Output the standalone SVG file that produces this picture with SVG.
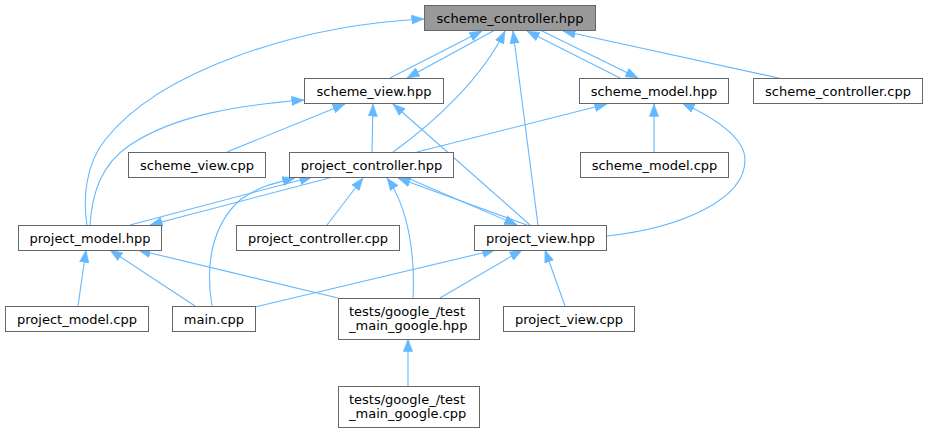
<svg xmlns="http://www.w3.org/2000/svg" width="928" height="432" viewBox="0 0 928 432">
<style>
.n rect{fill:#ffffff;stroke:#666666;stroke-width:1}
.n.root rect{fill:#999999}
.n text{font-family:"DejaVu Sans","Liberation Sans",sans-serif;font-size:13px;fill:#000000;text-anchor:middle}
.n text.l{text-anchor:start}
.e path{fill:none;stroke:#63b8ff;stroke-width:1.1;marker-end:url(#ah)}
</style>
<defs>
<marker id="ah" markerUnits="userSpaceOnUse" markerWidth="13" markerHeight="10" refX="12.5" refY="5" orient="auto" viewBox="0 0 13 10">
<path d="M0,0.3 L12.5,5 L0,9.7 z" fill="#63b8ff" stroke="#63b8ff" stroke-width="0.5"/>
</marker>
</defs>
<rect width="928" height="432" fill="#ffffff"/>
<g id="edges" class="e">
<path d="M87,225 C83,200 85,165 105,140 C160,70 300,25 424,19"/>
<path d="M390,78 L482,31"/>
<path d="M495,30 L407,78"/>
<path d="M393,152 C435,122 482,78 505,31"/>
<path d="M538,225 L513,31"/>
<path d="M620,78 L527,31"/>
<path d="M540,30 L638,78"/>
<path d="M783,79 L563,31"/>
<path d="M90,225 C92,195 100,165 130,145 C175,115 240,105 304,100"/>
<path d="M227,152 L345,104"/>
<path d="M372,152 L373,104"/>
<path d="M530,225 L393,104"/>
<path d="M417,152 L607,104"/>
<path d="M654,152 L654,104"/>
<path d="M607,236 C680,228 745,200 745,160 C745,140 720,120 682,103"/>
<path d="M130,225 L312,177"/>
<path d="M333,177 L150,225"/>
<path d="M212,306 C205,265 212,225 240,200 C260,185 280,182 295,178"/>
<path d="M327,225 L363,178"/>
<path d="M413,298 C415,260 410,210 387,178"/>
<path d="M527,225 L398,178"/>
<path d="M405,177 L517,225"/>
<path d="M78,306 L86,250"/>
<path d="M195,306 L110,250"/>
<path d="M338,298 L138,250"/>
<path d="M255,307 L495,250"/>
<path d="M440,298 L522,250"/>
<path d="M565,306 L545,250"/>
<path d="M408,387 L408,339"/>
</g>
<g id="scheme_controller_hpp" class="n root"><rect x="424.5" y="5.5" width="171" height="25"/><text x="510" y="22.5">scheme_controller.hpp</text></g>
<g id="scheme_view_hpp" class="n"><rect x="304.5" y="78.5" width="139" height="25"/><text x="374" y="95.5">scheme_view.hpp</text></g>
<g id="scheme_model_hpp" class="n"><rect x="579.5" y="78.5" width="149" height="25"/><text x="654" y="95.5">scheme_model.hpp</text></g>
<g id="scheme_controller_cpp" class="n"><rect x="753.5" y="78.5" width="169" height="25"/><text x="838" y="95.5">scheme_controller.cpp</text></g>
<g id="scheme_view_cpp" class="n"><rect x="128.5" y="152.5" width="137" height="25"/><text x="197" y="169.5">scheme_view.cpp</text></g>
<g id="project_controller_hpp" class="n"><rect x="289.5" y="152.5" width="164" height="25"/><text x="371.5" y="169.5">project_controller.hpp</text></g>
<g id="scheme_model_cpp" class="n"><rect x="580.5" y="152.5" width="148" height="25"/><text x="654.5" y="169.5">scheme_model.cpp</text></g>
<g id="project_model_hpp" class="n"><rect x="18.5" y="225.5" width="143" height="25"/><text x="90" y="242.5">project_model.hpp</text></g>
<g id="project_controller_cpp" class="n"><rect x="236.5" y="225.5" width="163" height="25"/><text x="318" y="242.5">project_controller.cpp</text></g>
<g id="project_view_hpp" class="n"><rect x="474.5" y="225.5" width="132" height="25"/><text x="540.5" y="242.5">project_view.hpp</text></g>
<g id="project_model_cpp" class="n"><rect x="5.5" y="306.5" width="143" height="25"/><text x="77" y="323.5">project_model.cpp</text></g>
<g id="main_cpp" class="n"><rect x="172.5" y="306.5" width="83" height="25"/><text x="214" y="323.5">main.cpp</text></g>
<g id="test_main_google_hpp" class="n"><rect x="338.5" y="298.5" width="141" height="41"/><text class="l" x="349" y="315.5">tests/google_/test</text><text class="l" x="349" y="329.5">_main_google.hpp</text></g>
<g id="project_view_cpp" class="n"><rect x="503.5" y="306.5" width="131" height="25"/><text x="569" y="323.5">project_view.cpp</text></g>
<g id="test_main_google_cpp" class="n"><rect x="338.5" y="386.5" width="141" height="41"/><text class="l" x="349" y="403.5">tests/google_/test</text><text class="l" x="349" y="417.5">_main_google.cpp</text></g>
</svg>
